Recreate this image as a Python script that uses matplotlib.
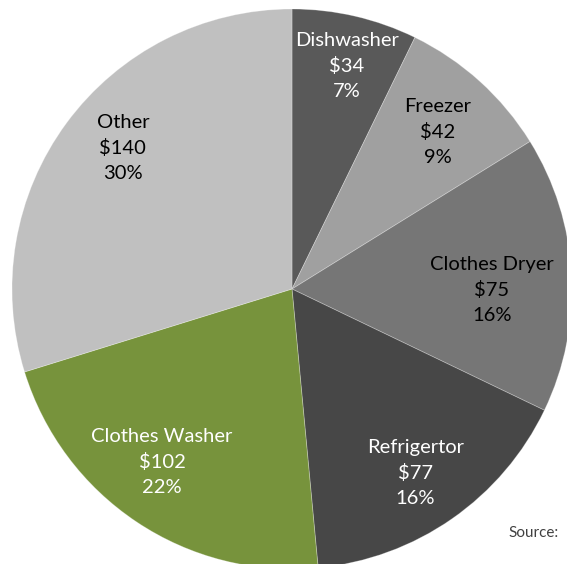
import numpy as np
import matplotlib.pyplot as plt

categories = ["Dishwasher", "Freezer", "Clothes Dryer", "Refrigertor", "Clothes Washer", "Other"]
costs = [34, 42, 75, 77, 102, 140]
colors = ["#595959", "#a0a0a0", "#767676", "#474747", "#77933c", "#c0c0c0"]
text_colors = ["white", "black", "black", "white", "white", "black"]
# label placement: radius fraction and clockwise angle shift (deg) from wedge middle
label_r = [0.82, 0.766, 0.714, 0.79, 0.773, 0.786]
label_shift = [0.85, 0.8, 3.4, 1.0, 3.2, 3.4]

plt.rcParams['font.family'] = ['Lato', 'DejaVu Sans']

W, H = 567, 564
fig = plt.figure(figsize=(W / 100, H / 100), dpi=100)
# pie centre at (292, 289) px, radius 280 px
cx, cy, R = 292, 289, 280
ax = fig.add_axes([(cx - R) / W, (H - cy - R) / H, 2 * R / W, 2 * R / H])

wedges, _ = ax.pie(costs, colors=colors, startangle=90, counterclock=False,
                   radius=1, wedgeprops=dict(edgecolor=(1, 1, 1, 0.3), linewidth=0.6))
for w in wedges:
    w.set_clip_on(False)
ax.set_xlim(-1, 1)
ax.set_ylim(-1, 1)
ax.axis("off")

total = sum(costs)
for wdg, name, val, tc, r, sh in zip(wedges, categories, costs, text_colors, label_r, label_shift):
    mid = np.deg2rad((wdg.theta1 + wdg.theta2) / 2 - sh)
    x, y = r * np.cos(mid), r * np.sin(mid)
    ax.text(x, y, f"{name}\n${val}\n{val / total:.0%}", ha="center", va="center",
            color=tc, fontsize=14.5, linespacing=1.55)

fig.text(508 / W, 1 - 533 / H, "Source:", ha="left", va="center", fontsize=11, color="#404040")

fig.savefig("out.png", dpi=100)
